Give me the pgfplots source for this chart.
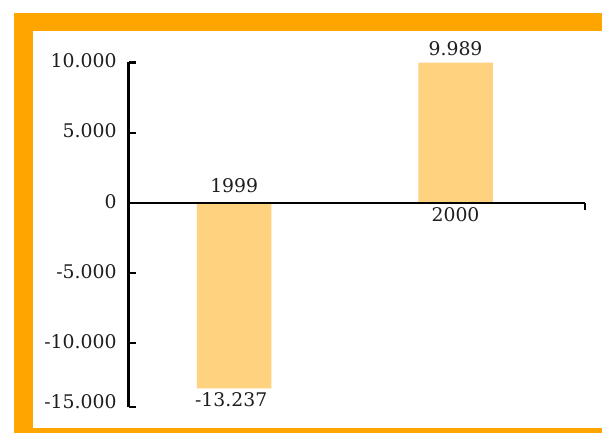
\documentclass[border=0pt]{standalone}
\usepackage{fontspec}
\setmainfont{DejaVu Serif}
\usepackage{pgfplots}
\pgfplotsset{compat=1.18}
\definecolor{frameorange}{HTML}{FFA500}
\definecolor{barfill}{HTML}{FFD280}
\definecolor{ink}{HTML}{1E1E1E}
\begin{document}
\fontsize{18.8bp}{22bp}\selectfont
\begin{tikzpicture}[x=1bp,y=1bp]
  \path[use as bounding box] (0,0) rectangle (602,432);
  \clip (0,0) rectangle (602,432);
  % orange frame with white panel
  \fill[frameorange] (14,-20) rectangle (640,418.7);
  \fill[white] (33,4) rectangle (630,401.3);
  \begin{axis}[
    at={(128.5bp,25bp)}, anchor=south west,
    scale only axis, width=456.5bp, height=344.5bp,
    clip=false, axis on top,
    axis x line=middle, axis y line=left,
    axis line style={-, line width=2.2bp, black},
    xmin=-0.4776, xmax=1.585,
    ymin=-14560, ymax=10000,
    scaled y ticks=false,
    xtick={1.585}, xticklabels={},
    xtick align=outside,
    ytick={-10000,-5000,0,5000,10000},
    yticklabels={-10.000,-5.000,0,5.000,10.000},
    extra y ticks={-14560},
    extra y tick labels={-15.000},
    extra y tick style={yticklabel style={yshift=4bp}},
    ytick align=inside,
    major tick length=7.7bp,
    tick style={line width=2.2bp, black},
    yticklabel style={anchor=east, inner sep=0pt, xshift=-11.8bp, yshift=1.5bp, text=ink},
  ]
    \addplot[ybar, bar width=74.5bp, bar shift=0pt, fill=barfill, draw=none]
      coordinates {(0,-13237) (1,9989)};
    % category names beside the zero line
    \node[anchor=south, inner sep=0pt, text=ink, yshift=10bp] at (axis cs:0,0) {1999};
    \node[anchor=north, inner sep=0pt, text=ink, yshift=-5bp] at (axis cs:1,0) {2000};
    % bar values
    \node[anchor=south, inner sep=0pt, text=ink, yshift=7bp] at (axis cs:1,9989) {9.989};
    \node[anchor=north, inner sep=0pt, text=ink, yshift=-3.5bp, xshift=-3bp] at (axis cs:0,-13237) {-13.237};
  \end{axis}
\end{tikzpicture}
\end{document}
